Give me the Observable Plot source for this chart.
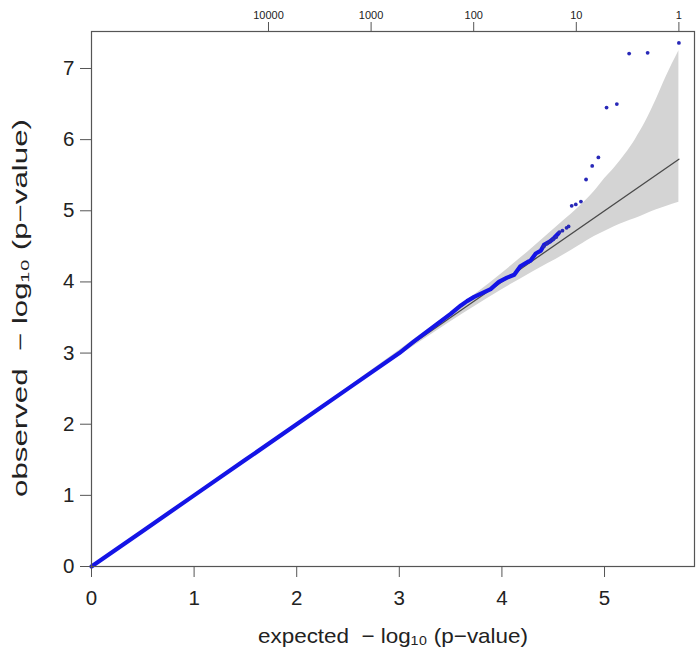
<!DOCTYPE html>
<html>
<head>
<meta charset="utf-8">
<script src="https://cdn.jsdelivr.net/npm/d3@7"></script>
<script src="https://cdn.jsdelivr.net/npm/@observablehq/plot@0.6"></script>
<style>
  html, body { margin: 0; padding: 0; background: #fff; }
  #chart svg { display: block; }
</style>
</head>
<body>
<div id="chart"></div>
<script>
// Bottom / left tick values
const xTicks = [0, 1, 2, 3, 4, 5];
const yTicks = [0, 1, 2, 3, 4, 5, 6, 7];
// Top axis (rank) labels, placed at expected -log10 position of that rank
const topLabels = [10000, 1000, 100, 10, 1];
const maxExpected = 5.725;

// Dense observed curve (expected, observed)
const obsX = [0, 0.5, 1, 1.5, 2, 2.5, 3.0, 3.14, 3.37, 3.5, 3.6, 3.66, 3.73, 3.89, 3.97, 4.05, 4.12, 4.18, 4.25, 4.28, 4.33, 4.38, 4.41, 4.47, 4.51, 4.55];
const obsY = [0, 0.5, 1, 1.5, 2, 2.5, 3.0, 3.16, 3.41, 3.55, 3.67, 3.73, 3.79, 3.90, 4.00, 4.06, 4.10, 4.22, 4.28, 4.30, 4.40, 4.44, 4.52, 4.57, 4.62, 4.68];

// Sparse top points (expected, observed)
const dotX = [4.41, 4.44, 4.47, 4.50, 4.53, 4.56, 4.59, 4.63, 4.65, 4.68, 4.72, 4.77, 4.82, 4.88, 4.94, 5.02, 5.12, 5.24, 5.42, 5.725];
const dotY = [4.50, 4.54, 4.57, 4.60, 4.63, 4.70, 4.72, 4.76, 4.78, 5.07, 5.09, 5.13, 5.44, 5.63, 5.75, 6.45, 6.50, 7.21, 7.22, 7.36];

// 95% confidence band (expected, lower, upper)
const bandX  = [0, 1, 2, 3, 3.5, 4.0, 4.3, 4.6, 4.75, 4.9, 5.0, 5.1, 5.2, 5.3, 5.4, 5.5, 5.6, 5.725];
const bandLo = [0, 0.99, 1.99, 2.96, 3.44, 3.89, 4.14, 4.38, 4.51, 4.64, 4.71, 4.78, 4.84, 4.89, 4.95, 5.01, 5.06, 5.12];
const bandHi = [0, 1.01, 2.01, 3.04, 3.57, 4.12, 4.48, 4.86, 5.05, 5.27, 5.45, 5.61, 5.79, 6.00, 6.25, 6.55, 6.88, 7.25];

// Reference line y = x
const refX = [0, 5.725];

const xLabel = "expected  \u2212 log\u2081\u2080 (p\u2212value)";
const yLabel = "observed  \u2212 log\u2081\u2080 (p\u2212value)";

const obs = obsX.map((x, i) => ({x, y: obsY[i]}));
const dots = dotX.map((x, i) => ({x, y: dotY[i]}));
const band = bandX.map((x, i) => ({x, lo: bandLo[i], hi: bandHi[i]}));
const ref = refX.map(x => ({x, y: x}));
const topPos = topLabels.map(v => maxExpected - Math.log10(v));

const chart = Plot.plot({
  width: 700,
  height: 655,
  marginLeft: 91,
  marginRight: 6,
  marginTop: 31,
  marginBottom: 89,
  style: {fontFamily: "'Liberation Sans', Arial, Helvetica, sans-serif", color: "#222", background: "#fff"},
  x: {domain: [0, 5.877], axis: null},
  y: {domain: [0, 7.52], axis: null},
  marks: [
    Plot.areaY(band, {x: "x", y1: "lo", y2: "hi", fill: "#d4d4d4", curve: "monotone-x"}),
    Plot.line(ref, {x: "x", y: "y", stroke: "#4a4a4a", strokeWidth: 1.3}),
    Plot.line(obs, {x: "x", y: "y", stroke: "#1414e6", strokeWidth: 4.2, strokeLinecap: "round"}),
    Plot.dot(dots, {x: "x", y: "y", r: 1.9, fill: "#2828b8", stroke: "none"}),
    Plot.frame({stroke: "#555", strokeWidth: 1.2}),
    Plot.axisX({ticks: xTicks, anchor: "bottom", tickSize: 11, tickPadding: 13, fontSize: 20.5, stroke: "#555", label: null, tickFormat: d => String(d)}),
    Plot.axisY({ticks: yTicks, anchor: "left", tickSize: 11, tickPadding: 6, fontSize: 20.5, stroke: "#555", label: null, tickFormat: d => String(d)}),
    Plot.axisX(topPos, {anchor: "top", tickSize: 10, tickPadding: 3, fontSize: 11, stroke: "#555", fill: "#222", label: null, tickFormat: d => String(topLabels[topPos.indexOf(d)])}),
    Plot.text([xLabel], {frameAnchor: "bottom", dy: 70, lineAnchor: "middle", fontSize: 21, fill: "#222"}),
    Plot.text([yLabel], {frameAnchor: "left", dx: -71, dy: 198, rotate: -90, textAnchor: "start", lineAnchor: "middle", fontSize: 20, fill: "#222"})
  ]
});
chart.querySelectorAll("text").forEach(t => {
  if (t.textContent === xLabel) { t.setAttribute("textLength", "270"); t.setAttribute("lengthAdjust", "spacingAndGlyphs"); }
  if (t.textContent === yLabel) { t.setAttribute("textLength", "378"); t.setAttribute("lengthAdjust", "spacingAndGlyphs"); }
});
document.getElementById("chart").appendChild(chart);
</script>
</body>
</html>
